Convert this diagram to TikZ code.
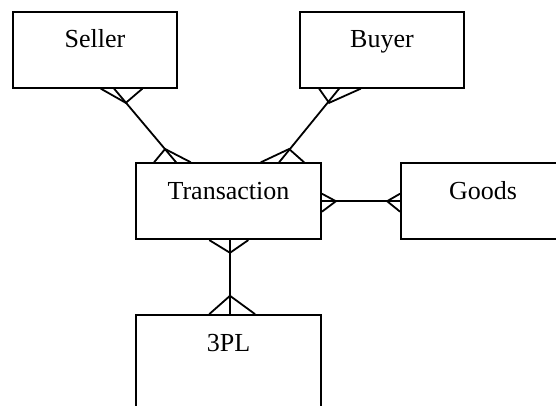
\documentclass[tikz,border=0pt]{standalone}
\usepackage{fontspec}
\setmainfont{Liberation Serif}
\begin{document}
\begin{tikzpicture}[x=1pt,y=-1pt,line width=1.8pt]

      \useasboundingbox (0,0) rectangle (556,405);
      \clip (0,0) rectangle (556,405);

      \begin{scope}[every node/.style={draw,rectangle,inner sep=0pt,
          text height=36pt,text depth=40pt,font=\fontsize{26}{30}\selectfont}]
        \node[minimum width=164pt] (seller) at (95,49.75)    {Seller};
        \node[minimum width=164pt] (buyer)  at (382,49.75)   {Buyer};
        \node[minimum width=185pt] (trans)  at (228.5,201.2) {Transaction};
        \node[minimum width=164pt] (goods)  at (483,201.2)   {Goods};
        \node[minimum width=185pt,text depth=100pt] (tpl) at (228.5,383) {3PL};
      \end{scope}

      % seller -- transaction
      \draw ([xshift=102pt]seller.south west) -- ([xshift=41pt]trans.north west);
      \draw ([xshift=88.7pt]seller.south west) -- ([xshift=113.7pt,yshift=-14.2pt]seller.south west)
            -- ([xshift=130.3pt]seller.south west);
      \draw ([xshift=19pt]trans.north west) -- ([xshift=30pt,yshift=13.3pt]trans.north west)
            -- ([xshift=55.7pt]trans.north west);

      % buyer -- transaction
      \draw ([xshift=40pt]buyer.south west) -- ([xshift=144pt]trans.north west);
      \draw ([xshift=20pt]buyer.south west) -- ([xshift=30pt,yshift=-14.2pt]buyer.south west)
            -- ([xshift=61.7pt]buyer.south west);
      \draw ([xshift=125.7pt]trans.north west) -- ([xshift=154pt,yshift=13.3pt]trans.north west)
            -- ([xshift=169pt]trans.north west);

      % transaction -- goods
      \draw (trans.east) -- (goods.west);
      \draw ([yshift=7.5pt]trans.east) -- ([xshift=14pt]trans.east) -- ([yshift=-10.5pt]trans.east);
      \draw ([yshift=7.5pt]goods.west) -- ([xshift=-13pt]goods.west) -- ([yshift=-10.5pt]goods.west);

      % transaction -- 3pl
      \draw ([xshift=1.5pt]trans.south) -- ([xshift=1.5pt]tpl.north);
      \draw ([xshift=-19.2pt]trans.south) -- ([xshift=1.5pt,yshift=-12.7pt]trans.south)
            -- ([xshift=19.8pt]trans.south);
      \draw ([xshift=-19.2pt]tpl.north) -- ([xshift=1.5pt,yshift=18.3pt]tpl.north)
            -- ([xshift=26.5pt]tpl.north);

    \end{tikzpicture}
\end{document}
